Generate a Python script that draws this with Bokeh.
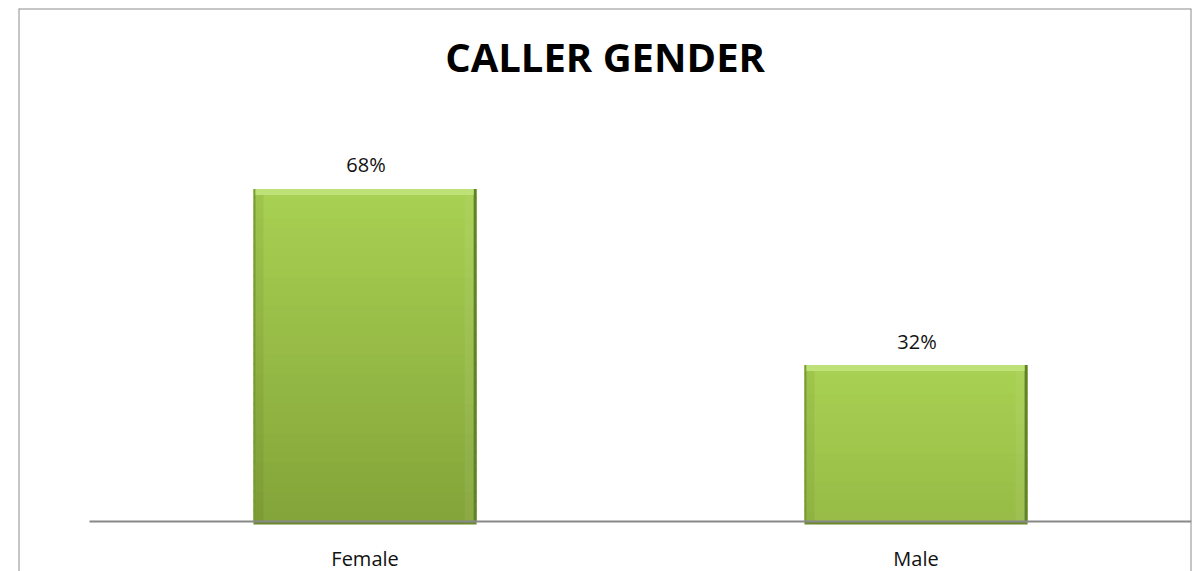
import numpy as np
from bokeh.plotting import figure
from bokeh.models import Range1d, LinearAxis, FixedTicker, Span, Label
from bokeh.embed import file_html
from bokeh.resources import INLINE
from bokeh.core.properties import value

# ---- data ----
categories = ["Female", "Male"]
shares = [0.68, 0.32]
title_text = "CALLER GENDER"

# ---- figure ----
x_start, x_end = -0.629, 1.5
y_start, y_end = -0.1022, 1.049
p = figure(width=1201, height=571, output_backend="svg", toolbar_location=None,
           x_range=Range1d(x_start, x_end), y_range=Range1d(y_start, y_end),
           x_axis_type=None, y_axis_type=None,
           min_border_left=18, min_border_right=10, min_border_top=8, min_border_bottom=0)
p.outline_line_color = None
p.background_fill_color = "white"
p.border_fill_color = "white"

xpos = list(range(len(categories)))
half = 0.2025
px = 1.0 / 551.0   # one pixel in x data units
py = 1.0 / 489.0   # one pixel in y data units

# ---- bars: vertical gradient built in overlapping slices ----
top_col = np.array([0xa9, 0xd1, 0x52], dtype=float)
bot_col = np.array([0x83, 0xa4, 0x39], dtype=float)
maxv = max(shares)
L, R, B, T, C = [], [], [], [], []
for xi, v in zip(xpos, shares):
    n = max(1, int(round(v / 0.02)))
    edges = np.linspace(0, v, n + 1)
    for b, t in zip(edges[:-1], edges[1:]):
        depth = (v - (b + t) / 2) / maxv
        c = top_col + (bot_col - top_col) * depth
        L.append(xi - half); R.append(xi + half)
        B.append(b); T.append(min(v, t + 2 * py))
        C.append("#%02x%02x%02x" % tuple(int(round(k)) for k in c))
p.quad(left=L, right=R, bottom=B, top=T, fill_color=C, line_color=None)

xl = [x - half for x in xpos]
xr = [x + half for x in xpos]
zeros = [0] * len(xpos)
# side shading bands
p.quad(left=xl, right=[x + 10 * px for x in xl], bottom=zeros, top=shares,
       fill_color="black", fill_alpha=0.05, line_color=None)
p.quad(left=[x - 12 * px for x in xr], right=xr, bottom=zeros, top=shares,
       fill_color="white", fill_alpha=0.06, line_color=None)
# dark edges
p.quad(left=xl, right=[x + 2 * px for x in xl], bottom=zeros, top=shares,
       fill_color="#7a9a34", line_color=None)
p.quad(left=[x - 3 * px for x in xr], right=xr, bottom=zeros, top=shares,
       fill_color="#62822a", line_color=None)
# top bevel highlight
p.quad(left=[x + 2 * px for x in xl], right=[x - 3 * px for x in xr],
       bottom=[v - 6 * py for v in shares], top=shares,
       fill_color="#bfe278", line_color=None)
# bottom shadow
p.quad(left=xl, right=xr, bottom=[-3 * py] * len(xpos), top=zeros,
       fill_color="#6a8a2a", line_color=None)

# ---- value labels ----
p.text(x=xpos, y=shares, text=[f"{round(v * 100)}%" for v in shares],
       text_align="center", text_baseline="alphabetic", x_offset=1, y_offset=-24,
       text_font=value("Open Sans"), text_font_size="20px", text_color="#111111")

# ---- category axis ----
xaxis = LinearAxis(fixed_location=0, bounds=(-0.5, len(categories) - 0.5),
                   ticker=FixedTicker(ticks=xpos),
                   major_label_overrides={i: c for i, c in zip(xpos, categories)})
xaxis.axis_line_color = "#888888"
xaxis.axis_line_width = 2
xaxis.major_tick_line_color = None
xaxis.minor_tick_line_color = None
xaxis.major_label_text_font = "Open Sans"
xaxis.major_label_text_font_size = "20px"
xaxis.major_label_text_color = "#111111"
xaxis.major_label_standoff = 17
p.add_layout(xaxis, "below")

# ---- title ----
p.add_layout(Label(x=0.4356, y=0.951, text=title_text, text_align="center",
                   text_baseline="alphabetic", text_font="Open Sans",
                   text_font_style="bold", text_font_size="40px", text_color="black"))

# ---- chart border ----
for loc, dim in [(x_start, "height"), (x_end, "height"), (y_end, "width")]:
    p.add_layout(Span(location=loc, dimension=dim, line_color="#8e8e8e", line_width=2))

open("out.html", "w").write(file_html(p, INLINE))
